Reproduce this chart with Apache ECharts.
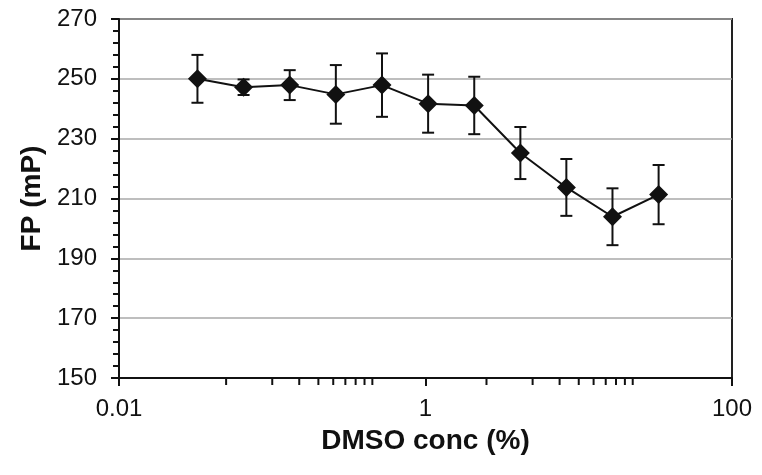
<!DOCTYPE html>
<html>
<head>
<meta charset="utf-8">
<script src="https://cdn.jsdelivr.net/npm/echarts@6/dist/echarts.min.js"></script>
<style>html,body{margin:0;padding:0;background:#fff;}#c{width:762px;height:475px;}</style>
</head>
<body>
<div id="c"></div>
<script>
// DMSO concentration (%)
var dmsoConc = [0.0325, 0.065, 0.13, 0.26, 0.52, 1.04, 2.08, 4.16, 8.3, 16.6, 33.2];
// Fluorescence polarization (mP)
var fpValues = [250, 247.2, 247.9, 244.8, 247.9, 241.7, 241.1, 225.2, 213.7, 203.9, 211.3];
// error (± mP)
var fpErrors = [8, 2.6, 5, 9.8, 10.6, 9.7, 9.6, 8.7, 9.5, 9.5, 9.9];
// x tick labels
var xTickLabels = ['0.01', '1', '100'];
var xTickValues = [0.01, 1, 100];
// minor tick positions on x axis
var xMinorTicks = [0.05, 0.1, 0.15, 0.2, 0.25, 0.3, 0.35, 0.4, 0.45, 2.5, 5, 7.5, 10, 12.5, 15, 17.5, 20, 22.5];

var FONT = '"Liberation Sans", Arial, Helvetica, sans-serif';

var lineData = dmsoConc.map(function (x, i) { return [x, fpValues[i]]; });
var errData = dmsoConc.map(function (x, i) { return [x, fpValues[i] - fpErrors[i], fpValues[i] + fpErrors[i]]; });
var minorData = xMinorTicks.map(function (x) { return [x, 150]; });

var chart = echarts.init(document.getElementById('c'), null, {renderer: 'canvas'});
chart.setOption({
  animation: false,
  backgroundColor: '#ffffff',
  grid: {
    left: 119, right: 30, top: 19, bottom: 97,
    show: true, borderColor: '#222', borderWidth: 2, backgroundColor: 'transparent'
  },
  xAxis: {
    type: 'log', logBase: 10, min: 0.01, max: 100, interval: 2,
    name: 'DMSO conc (%)', nameLocation: 'middle', nameGap: 49,
    nameTextStyle: {fontFamily: FONT, fontSize: 28, fontWeight: 'bold', color: '#111'},
    axisLine: {show: true, onZero: false, lineStyle: {color: '#111', width: 2}},
    axisTick: {show: true, length: 8, lineStyle: {color: '#111', width: 2}},
    minorTick: {show: false},
    splitLine: {show: false},
    axisLabel: {
      fontFamily: FONT, fontSize: 24, color: '#111', margin: 19,
      formatter: function (v) {
        for (var i = 0; i < xTickValues.length; i++) {
          if (Math.abs(Math.log10(v) - Math.log10(xTickValues[i])) < 1e-6) return xTickLabels[i];
        }
        return '';
      }
    }
  },
  yAxis: {
    type: 'value', min: 150, max: 270, interval: 20,
    name: 'FP (mP)', nameLocation: 'middle', nameGap: 64, nameRotate: 90,
    nameTextStyle: {fontFamily: FONT, fontSize: 28, fontWeight: 'bold', color: '#111'},
    axisLine: {show: true, onZero: false, lineStyle: {color: '#111', width: 2}},
    axisTick: {show: true, length: 8, lineStyle: {color: '#111', width: 2}},
    minorTick: {show: true, splitNumber: 5, length: 6, lineStyle: {color: '#111', width: 2}},
    splitLine: {show: true, lineStyle: {color: '#a8a8a8', width: 1.5}},
    axisLabel: {fontFamily: FONT, fontSize: 24, color: '#111', margin: 22}
  },
  series: [
    {
      type: 'custom',
      name: 'minorX',
      clip: false,
      silent: true,
      data: minorData,
      encode: {x: 0, y: 1},
      z: 5,
      renderItem: function (params, api) {
        var p = api.coord([api.value(0), api.value(1)]);
        return {
          type: 'line',
          shape: {x1: p[0], y1: p[1], x2: p[0], y2: p[1] + 7},
          style: {stroke: '#111', lineWidth: 2}
        };
      }
    },
    {
      type: 'custom',
      name: 'error',
      silent: true,
      data: errData,
      encode: {x: 0, y: [1, 2]},
      z: 3,
      renderItem: function (params, api) {
        var x = api.value(0);
        var lo = api.coord([x, api.value(1)]);
        var hi = api.coord([x, api.value(2)]);
        var hw = 6;
        var st = {stroke: '#111', lineWidth: 2};
        return {
          type: 'group',
          children: [
            {type: 'line', shape: {x1: lo[0], y1: lo[1], x2: hi[0], y2: hi[1]}, style: st},
            {type: 'line', shape: {x1: hi[0] - hw, y1: hi[1], x2: hi[0] + hw, y2: hi[1]}, style: st},
            {type: 'line', shape: {x1: lo[0] - hw, y1: lo[1], x2: lo[0] + hw, y2: lo[1]}, style: st}
          ]
        };
      }
    },
    {
      type: 'line',
      name: 'FP',
      data: lineData,
      symbol: 'diamond',
      symbolSize: 19,
      showAllSymbol: true,
      z: 4,
      lineStyle: {color: '#111', width: 2},
      itemStyle: {color: '#111', borderWidth: 0}
    }
  ]
});
</script>
</body>
</html>
